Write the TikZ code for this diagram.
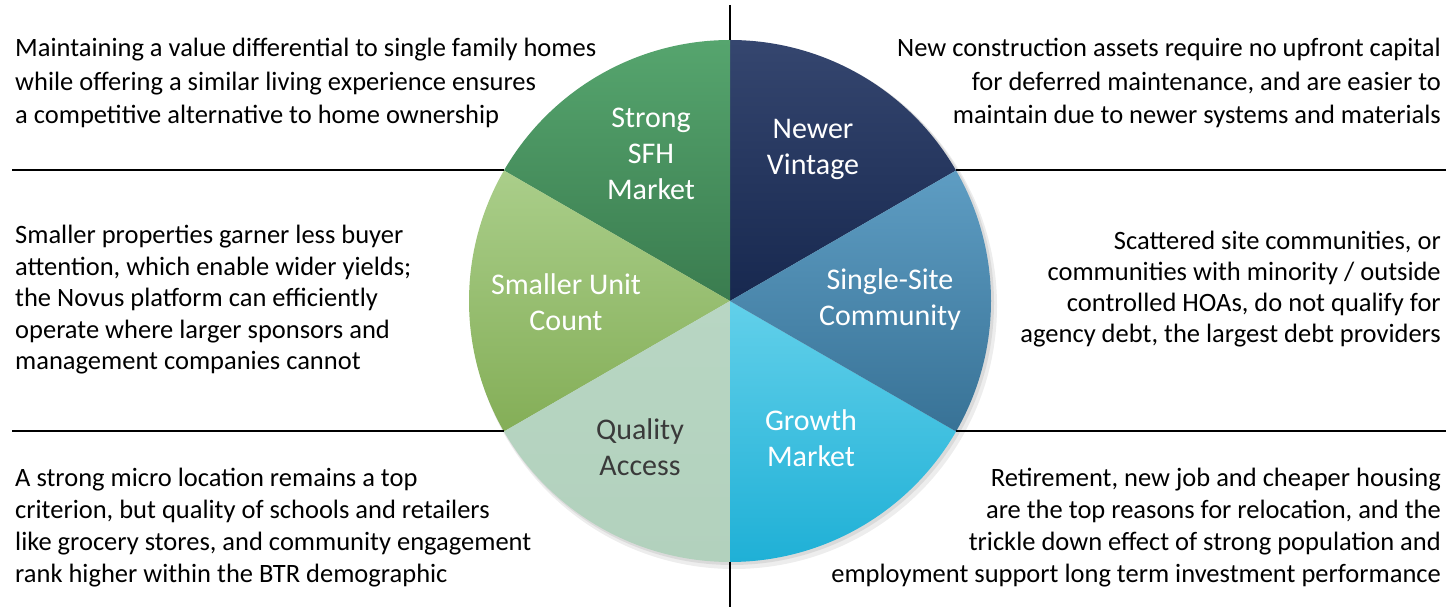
\documentclass[tikz,border=0pt]{standalone}
\usepackage{fontspec}
\setmainfont{Carlito}
\usetikzlibrary{calc}
\definecolor{sfhTop}{HTML}{56A56E}
\definecolor{sfhBot}{HTML}{3A7C4F}
\definecolor{nvTop}{HTML}{35466F}
\definecolor{nvBot}{HTML}{17284F}
\definecolor{ssTop}{HTML}{5E9DC3}
\definecolor{ssBot}{HTML}{387296}
\definecolor{grTop}{HTML}{62D0EA}
\definecolor{grBot}{HTML}{1FB0D6}
\definecolor{qaTop}{HTML}{B8D6C3}
\definecolor{qaBot}{HTML}{B2D1BD}
\definecolor{suTop}{HTML}{AACE8A}
\definecolor{suBot}{HTML}{84AE57}
\definecolor{qaText}{HTML}{3A3A3A}
\begin{document}
\begin{tikzpicture}[x=1pt,y=1pt,
  body/.style={inner sep=0pt, text=black},
  bodyL/.style={body, align=left, anchor=west},
  bodyR/.style={body, align=right, anchor=east},
  slicelabel/.style={inner sep=0pt, align=center, font=\fontsize{30}{36}\selectfont, text=white},
  rule/.style={line width=2pt, black}
]
\useasboundingbox (0,0) rectangle (1456,612);
\def\R{261}
\coordinate (c) at (730,311);
% shadow
\fill[black, opacity=0.07] ($(c)+(4,-5)$) circle[radius=\R+2];
\fill[black, opacity=0.08] ($(c)+(2,-2)$) circle[radius=\R+1];
% wedges
\shade[top color=nvTop, bottom color=nvBot] (c) -- ++(30:\R) arc[start angle=30, end angle=90, radius=\R] -- cycle;
\shade[top color=sfhTop, bottom color=sfhBot] (c) -- ++(90:\R) arc[start angle=90, end angle=150, radius=\R] -- cycle;
\shade[top color=suTop, bottom color=suBot] (c) -- ++(150:\R) arc[start angle=150, end angle=210, radius=\R] -- cycle;
\shade[top color=qaTop, bottom color=qaBot] (c) -- ++(210:\R) arc[start angle=210, end angle=270, radius=\R] -- cycle;
\shade[top color=grTop, bottom color=grBot] (c) -- ++(270:\R) arc[start angle=270, end angle=330, radius=\R] -- cycle;
\shade[top color=ssTop, bottom color=ssBot] (c) -- ++(330:\R) arc[start angle=330, end angle=390, radius=\R] -- cycle;
% boundary points
\coordinate (pUL) at ($(c)+(150:\R)$);
\coordinate (pUR) at ($(c)+(30:\R)$);
\coordinate (pLL) at ($(c)+(210:\R)$);
\coordinate (pLR) at ($(c)+(330:\R)$);
\coordinate (pT) at ($(c)+(90:\R)$);
\coordinate (pB) at ($(c)+(270:\R)$);
\coordinate (lUL) at (12,0 |- pUL);
\coordinate (lUR) at (1446,0 |- pUR);
\coordinate (lLL) at (12,0 |- pLL);
\coordinate (lLR) at (1446,0 |- pLR);
\coordinate (vT) at (730,607);
\coordinate (vB) at (730,5);
% rules
\draw[rule] (lUL) -- (pUL);
\draw[rule] (pUR) -- (lUR);
\draw[rule] (lLL) -- (pLL);
\draw[rule] (pLR) -- (lLR);
\draw[rule] (vT) -- (pT);
\draw[rule] (pB) -- (vB);
% slice labels
\node[slicelabel] (sfh) at (651,458) {Strong\\SFH\\Market};
\node[slicelabel] (nv) at (813,463) {Newer\\Vintage};
\node[slicelabel] (su) at (566,310) {Smaller Unit\\Count};
\node[slicelabel] (ss) at (890,312) {Single-Site\\Community};
\node[slicelabel, text=qaText] (qa) at (640,165) {Quality\\Access};
\node[slicelabel] (gr) at (811,174) {Growth\\Market};
% body texts
\node[bodyL, font=\fontsize{26.5}{33.5}\selectfont] (tUL) at (15,529) {Maintaining a value differential to single family homes\\while offering a similar living experience ensures\\a competitive alternative to home ownership};
\node[bodyR, font=\fontsize{26.5}{33.5}\selectfont] (tUR) at (1441,529) {New construction assets require no upfront capital\\for deferred maintenance, and are easier to\\maintain due to newer systems and materials};
\node[bodyL, font=\fontsize{26.5}{31.5}\selectfont] (tML) at (15,312) {Smaller properties garner less buyer\\attention, which enable wider yields;\\the Novus platform can efficiently\\operate where larger sponsors and\\management companies cannot};
\node[bodyR, font=\fontsize{26.5}{31}\selectfont] (tMR) at (1441,323) {Scattered site communities, or\\communities with minority / outside\\controlled HOAs, do not qualify for\\agency debt, the largest debt providers};
\node[bodyL, font=\fontsize{26.5}{32}\selectfont] (tLL) at (15,84) {A strong micro location remains a top\\criterion, but quality of schools and retailers\\like grocery stores, and community engagement\\rank higher within the BTR demographic};
\node[bodyR, font=\fontsize{26.5}{32}\selectfont] (tLR) at (1441,84) {Retirement, new job and cheaper housing\\are the top reasons for relocation, and the\\trickle down effect of strong population and\\employment support long term investment performance};
\end{tikzpicture}
\end{document}
